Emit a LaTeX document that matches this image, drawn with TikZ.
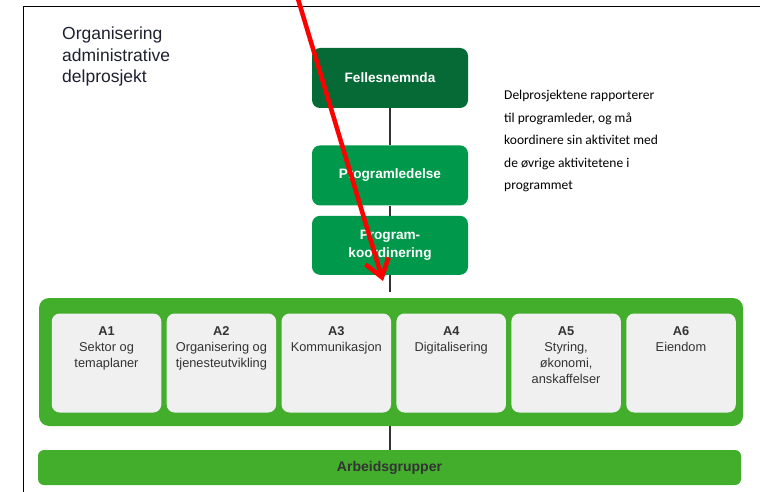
\documentclass[tikz,border=0pt]{standalone}
\usepackage{fontspec}
\setmainfont{Liberation Sans}
\newfontfamily\notefont{Carlito}
\usetikzlibrary{positioning, arrows.meta}
\definecolor{boardgreen}{HTML}{066A37}
\definecolor{proggreen}{HTML}{00984A}
\definecolor{projgreen}{HTML}{42AE2C}
\definecolor{projgray}{HTML}{F0F0F0}
\definecolor{inkgray}{HTML}{333333}
\definecolor{titleink}{HTML}{1E2030}
\tikzstyle{levelbox} = [
    rectangle, rounded corners=8pt, text=white,
    minimum width=156pt, minimum height=60pt, % top chain of boxes
    font=\fontsize{13.6}{18}\selectfont\bfseries, align=center
]
\tikzstyle{projbox} = [
    rectangle, rounded corners=8pt, fill=projgray,
    minimum width=109.5pt, minimum height=99pt, inner sep=0pt
]
\tikzstyle{projlabel} = [
    anchor=north, yshift=-13.5pt, inner sep=0pt, text=inkgray, align=center,
    font=\fontsize{12.8}{16}\selectfont
]
\tikzstyle{link} = [draw=inkgray, line width=1.1pt]

\begin{document}
\begin{tikzpicture}[x=1pt, y=-1pt]
        \useasboundingbox (0,0) rectangle (760,492);
        % Frame
        \draw[line width=1.8pt] (23.5,492) |- (760,6.5);

        \node[anchor=north west, inner sep=0pt, align=left, text=titleink,
              font=\fontsize{17.5}{21.5}\selectfont] (title) at (62,27)
            {Organisering\\administrative\\delprosjekt};

        % Management levels
        \node[levelbox, fill=boardgreen] (felles) at (390,78) {Fellesnemnda};
        \node[levelbox, fill=proggreen, below=37pt of felles] (ledelse) {Programledelse};
        \node[levelbox, fill=proggreen, below=10pt of ledelse, minimum height=59pt] (koord) {Program-\\koordinering};

        \node[anchor=north west, inner sep=0pt, align=left, text=black,
              font=\notefont\fontsize{13.5}{22.5}\selectfont] (note) at (504,90)
            {Delprosjektene rapporterer\\til programleder, og må\\koordinere sin aktivitet med\\de øvrige aktivitetene i\\programmet};

        % Sub-projects
        \node[rectangle, rounded corners=10pt, fill=projgreen,
              minimum width=704pt, minimum height=128pt] (delprosjekt) at (391,362) {};
        \node[projbox, label={[projlabel]north:{\textbf{A1}\\Sektor og\\temaplaner}}] (a1) at (106.5,363) {};
        \node[projbox, right=5pt of a1, label={[projlabel]north:{\textbf{A2}\\Organisering og\\tjenesteutvikling}}] (a2) {};
        \node[projbox, right=5pt of a2, label={[projlabel]north:{\textbf{A3}\\Kommunikasjon}}] (a3) {};
        \node[projbox, right=5pt of a3, label={[projlabel]north:{\textbf{A4}\\Digitalisering}}] (a4) {};
        \node[projbox, right=5pt of a4, label={[projlabel]north:{\textbf{A5}\\Styring,\\økonomi,\\anskaffelser}}] (a5) {};
        \node[projbox, right=5pt of a5, label={[projlabel]north:{\textbf{A6}\\Eiendom}}] (a6) {};

        \node[rectangle, rounded corners=6pt, fill=projgreen, text=inkgray,
              minimum width=703pt, minimum height=35pt,
              font=\fontsize{14}{16}\selectfont\bfseries] (arbeid) at (389.5,467.5) {Arbeidsgrupper};

        % Connectors
        \draw[link] (felles) -- (ledelse);
        \draw[link] (ledelse) -- (koord);
        \draw[link, shorten >=6pt] (koord.south) -- (koord.south |- delprosjekt.north);
        \draw[link] (delprosjekt.south -| koord.south) -- (arbeid.north -| koord.south);

        % Red pointer
        \coordinate (pointer start) at (296.5,-6);
        \coordinate (pointer end) at (383,281);
        \draw[red, line width=4.5pt, -{Straight Barb[length=17pt, width=24pt]}] (pointer start) -- (pointer end);

    \end{tikzpicture}
\end{document}
